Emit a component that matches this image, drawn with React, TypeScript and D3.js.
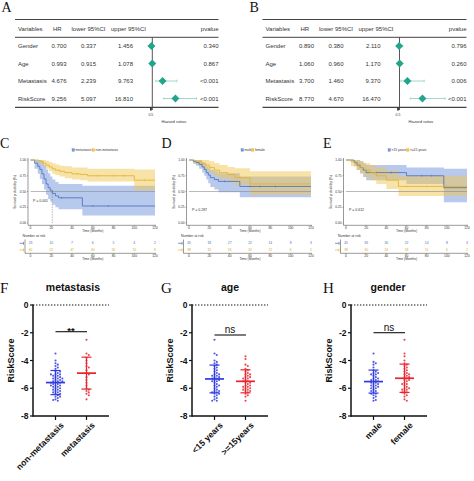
import React from "react";
import * as d3 from "d3";

const FONT = "'Liberation Sans', Arial, Helvetica, sans-serif";
const SERIF = "'Liberation Serif', 'Times New Roman', Times, serif";

// ---------------- Forest plots (A, B) ----------------
const forestVars = ["Gender", "Age", "Metastasis", "RiskScore"];
const forestHeader = ["Variables", "HR", "lower 95%CI", "upper 95%CI", "pvalue"];
const uniHR = [0.7, 0.993, 4.676, 9.256];
const uniLow = [0.337, 0.915, 2.239, 5.097];
const uniHigh = [1.456, 1.078, 9.763, 16.81];
const uniP = ["0.340", "0.867", "<0.001", "<0.001"];
const mulHR = [0.89, 1.06, 3.7, 8.77];
const mulLow = [0.38, 0.96, 1.46, 4.67];
const mulHigh = [2.11, 1.17, 9.37, 16.47];
const mulP = ["0.796", "0.260", "0.006", "<0.001"];

// ---------------- Kaplan-Meier (C, D, E) ----------------
const kmTimeTicks = [0, 20, 40, 60, 80, 100, 120];
const kmSurvTicks = [0, 0.25, 0.5, 0.75, 1];

// C: metastasis (blue) vs non-metastasis (yellow)
const cMetT = [0, 4, 7, 9, 11, 13, 15, 17, 19, 21, 24, 27, 50, 120];
const cMetS = [1, 0.95, 0.9, 0.85, 0.78, 0.7, 0.62, 0.56, 0.52, 0.47, 0.43, 0.4, 0.27, 0.27];
const cMetLo = [1, 0.86, 0.78, 0.7, 0.62, 0.53, 0.45, 0.38, 0.34, 0.29, 0.25, 0.22, 0.12, 0.12];
const cMetHi = [1, 1, 1, 1, 0.98, 0.92, 0.85, 0.79, 0.74, 0.69, 0.65, 0.62, 0.59, 0.59];
const cMetCens = [30, 60, 75];
const cNonT = [0, 8, 12, 15, 18, 21, 24, 28, 33, 40, 48, 55, 100, 120];
const cNonS = [1, 0.98, 0.95, 0.92, 0.89, 0.86, 0.84, 0.82, 0.8, 0.78, 0.77, 0.75, 0.68, 0.68];
const cNonLo = [1, 0.94, 0.9, 0.86, 0.82, 0.78, 0.76, 0.74, 0.71, 0.69, 0.68, 0.66, 0.52, 0.52];
const cNonHi = [1, 1, 1, 0.99, 0.97, 0.95, 0.93, 0.91, 0.9, 0.88, 0.88, 0.86, 0.85, 0.85];
const cNonCens = [45, 65, 80, 90, 110];
const cRiskMet = [23, 10, 7, 6, 5, 4, 2];
const cRiskNon = [60, 52, 47, 40, 30, 20, 8];

// D: male (blue) vs female (yellow)
const dMaleT = [0, 4, 7, 10, 13, 15, 17, 19, 21, 25, 29, 50, 120];
const dMaleS = [1, 0.98, 0.96, 0.93, 0.89, 0.85, 0.8, 0.76, 0.72, 0.69, 0.66, 0.58, 0.58];
const dMaleLo = [1, 0.94, 0.91, 0.86, 0.8, 0.75, 0.69, 0.63, 0.57, 0.53, 0.49, 0.41, 0.41];
const dMaleHi = [1, 1, 1, 1, 0.97, 0.94, 0.9, 0.87, 0.84, 0.82, 0.79, 0.74, 0.74];
const dMaleCens = [35, 60, 70, 85];
const dFemT = [0, 6, 12, 16, 20, 25, 30, 38, 45, 60, 120];
const dFemS = [1, 0.98, 0.95, 0.92, 0.88, 0.84, 0.8, 0.77, 0.72, 0.62, 0.62];
const dFemLo = [1, 0.93, 0.88, 0.84, 0.79, 0.74, 0.7, 0.66, 0.6, 0.45, 0.45];
const dFemHi = [1, 1, 1, 1, 0.98, 0.95, 0.92, 0.89, 0.87, 0.82, 0.82];
const dFemCens = [50, 75, 95];
const dRiskMale = [45, 33, 27, 22, 14, 8, 3];
const dRiskFem = [38, 32, 26, 20, 12, 6, 2];

// E: <15 years (blue) vs >=15 years (yellow)
const eYoungT = [0, 8, 11, 14, 17, 20, 60, 97, 120];
const eYoungS = [1, 0.96, 0.92, 0.88, 0.84, 0.8, 0.75, 0.56, 0.56];
const eYoungLo = [1, 0.9, 0.84, 0.79, 0.73, 0.68, 0.62, 0.33, 0.33];
const eYoungHi = [1, 1, 1, 0.98, 0.95, 0.92, 0.88, 0.86, 0.86];
const eYoungCens = [30, 45, 75, 85];
const eOldT = [0, 5, 10, 14, 18, 24, 30, 40, 52, 120];
const eOldS = [1, 0.97, 0.93, 0.88, 0.84, 0.8, 0.75, 0.68, 0.58, 0.58];
const eOldLo = [1, 0.9, 0.84, 0.78, 0.73, 0.68, 0.62, 0.54, 0.43, 0.43];
const eOldHi = [1, 1, 1, 0.98, 0.95, 0.92, 0.88, 0.83, 0.75, 0.75];
const eOldCens = [60, 80, 100];
const eRiskYoung = [45, 36, 30, 22, 14, 8, 3];
const eRiskOld = [38, 30, 24, 18, 11, 6, 2];

// ---------------- Dot plots (F, G, H) ----------------
const riskTicks = [0, -2, -4, -6, -8];
const fCats = ["non-metastasis", "metastasis"];
const fNonMet = [-3.5, -4.0, -4.2, -4.3, -4.4, -4.5, -4.6, -4.8, -4.8, -4.9, -5.0, -5.0, -5.0, -5.1, -5.1, -5.2, -5.2, -5.3, -5.3, -5.3, -5.4, -5.4, -5.5, -5.5, -5.5, -5.6, -5.6, -5.6, -5.7, -5.7, -5.8, -5.8, -5.8, -5.9, -5.9, -6.0, -6.0, -6.1, -6.1, -6.2, -6.2, -6.3, -6.3, -6.4, -6.4, -6.5, -6.6, -6.6, -6.7, -6.8, -6.85, -6.9];
const fMet = [-2.5, -3.5, -3.6, -3.8, -4.0, -4.2, -4.4, -4.5, -4.7, -4.9, -5.0, -5.2, -5.4, -5.6, -5.8, -6.0, -6.1, -6.2, -6.3, -6.4, -6.5, -6.8];
const fMeans = [-5.59, -4.91];
const fSds = [0.87, 1.15];

const gCats = ["<15 years", ">=15years"];
const gYoung = [-2.5, -3.5, -3.6, -4.0, -4.1, -4.2, -4.3, -4.4, -4.5, -4.6, -4.8, -4.9, -5.0, -5.0, -5.1, -5.2, -5.2, -5.3, -5.3, -5.4, -5.4, -5.5, -5.5, -5.6, -5.7, -5.8, -5.8, -5.9, -6.0, -6.1, -6.2, -6.2, -6.3, -6.3, -6.4, -6.4, -6.5, -6.6, -6.7, -6.8, -6.9, -6.9, -4.7, -5.1];
const gOld = [-3.7, -3.9, -4.3, -4.4, -4.6, -4.7, -4.8, -4.9, -5.0, -5.0, -5.1, -5.2, -5.3, -5.3, -5.4, -5.5, -5.5, -5.6, -5.6, -5.7, -5.8, -5.8, -5.9, -6.0, -6.0, -6.1, -6.1, -6.2, -6.2, -6.3, -6.4, -6.5, -6.6, -6.9, -5.2, -5.9];
const gMeans = [-5.33, -5.5];
const gSds = [1.0, 0.83];

const hCats = ["male", "female"];
const hMale = [-3.5, -4.1, -4.2, -4.3, -4.5, -4.7, -4.8, -4.9, -4.9, -5.0, -5.0, -5.1, -5.2, -5.3, -5.3, -5.4, -5.5, -5.5, -5.6, -5.6, -5.7, -5.7, -5.8, -5.9, -5.9, -6.0, -6.0, -6.1, -6.2, -6.2, -6.3, -6.4, -6.4, -6.5, -6.6, -6.7, -6.85, -6.9, -5.4, -5.8];
const hFemale = [-2.5, -3.5, -3.7, -4.0, -4.2, -4.3, -4.4, -4.5, -4.7, -4.8, -4.9, -5.0, -5.1, -5.2, -5.2, -5.3, -5.4, -5.4, -5.5, -5.6, -5.7, -5.8, -5.9, -6.0, -6.0, -6.1, -6.2, -6.3, -6.3, -6.4, -6.5, -6.6, -6.8, -6.9, -5.0, -5.7, -6.1, -4.6];
const hMeans = [-5.52, -5.28];
const hSds = [0.83, 1.02];

// ---------------- Components ----------------
function Forest({ dx, rightX, hr, lo, hi, pv, refX, slope }: any) {
  const x = d3.scaleLinear().domain([1, 20]).range([refX, refX + 19 * slope]);
  const rowY = d3.scaleLinear().domain([0, forestVars.length - 1]).range([46, 98.5]);
  const f3 = d3.format(".3f");
  const L = 15 + dx;
  const base: any = { fontFamily: FONT, fontSize: 6, fill: "#333" };
  const teal = "#23A58B";
  const tealLight = "#86CFC0";
  return (
    <g>
      <line x1={L} x2={rightX} y1={19.5} y2={19.5} stroke="#444" strokeWidth={1.2} />
      <line x1={L} x2={rightX} y1={37.3} y2={37.3} stroke="#444" strokeWidth={1} />
      <line x1={L} x2={rightX} y1={107.3} y2={107.3} stroke="#444" strokeWidth={1.2} />
      <line x1={x(1)} x2={x(1)} y1={37.3} y2={110} stroke="#444" strokeWidth={0.9} />
      <rect x={x(0.5) - 0.9} y={107.5} width={1.8} height={3} fill="#333" />
      <text x={x(0.5)} y={116} textAnchor="middle" style={{ ...base, fontSize: 3.5 }}>0.5</text>
      <text x={x(0.5) + 23} y={122.5} textAnchor="middle" style={{ ...base, fontSize: 4.2 }}>Hazard ratios</text>
      <text x={18 + dx} y={31.1} style={base}>{forestHeader[0]}</text>
      <text x={53 + dx} y={31.1} style={base}>{forestHeader[1]}</text>
      <text x={88.5 + dx} y={31.1} textAnchor="middle" style={base}>{forestHeader[2]}</text>
      <text x={128.5 + dx} y={31.1} textAnchor="middle" style={base}>{forestHeader[3]}</text>
      <text x={rightX} y={31.1} textAnchor="end" style={base}>{forestHeader[4]}</text>
      {forestVars.map((v, i) => {
        const yy = rowY(i);
        return (
          <g key={v}>
            <text x={18 + dx} y={yy + 2.1} style={base}>{v}</text>
            <text x={51.5 + dx} y={yy + 2.1} style={base}>{f3(hr[i])}</text>
            <text x={88.5 + dx} y={yy + 2.1} textAnchor="middle" style={base}>{f3(lo[i])}</text>
            <text x={133 + dx} y={yy + 2.1} textAnchor="end" style={base}>{f3(hi[i])}</text>
            <text x={rightX} y={yy + 2.1} textAnchor="end" style={base}>{pv[i]}</text>
            <line x1={x(lo[i])} x2={x(hi[i])} y1={yy} y2={yy} stroke={tealLight} strokeWidth={0.8} />
            <line x1={x(lo[i])} x2={x(lo[i])} y1={yy - 1.3} y2={yy + 1.3} stroke={tealLight} strokeWidth={0.7} />
            <line x1={x(hi[i])} x2={x(hi[i])} y1={yy - 1.3} y2={yy + 1.3} stroke={tealLight} strokeWidth={0.7} />
            <path
              d={`M${x(hr[i]) - 4},${yy} L${x(hr[i])},${yy - 4} L${x(hr[i]) + 4},${yy} L${x(hr[i])},${yy + 4} Z`}
              fill={teal}
            />
          </g>
        );
      })}
    </g>
  );
}

const KM_COL = [
  { line: "#4A6CB3", fill: "#7D9DE0", op: 0.55, text: "#4A6CB3" },
  { line: "#E2B12A", fill: "#F0C650", op: 0.5, text: "#D9A820" },
];

function stepVal(T: number[], V: number[], t: number) {
  let i = d3.bisectRight(T, t) - 1;
  if (i < 0) i = 0;
  return V[i];
}

function KM({ x0, x1, curves, names, risk, pText, pX, pY, medianT, legendX }: any) {
  const x = d3.scaleLinear().domain([0, 120]).range([x0, x1]);
  const y = d3.scaleLinear().domain([0, 1]).range([223, 160]);
  const ln = d3
    .line<any>()
    .x((d: any) => x(d[0]))
    .y((d: any) => y(d[1]))
    .curve(d3.curveStepAfter);
  const ar = d3
    .area<any>()
    .x((d: any) => x(d[0]))
    .y0((d: any) => y(d[1]))
    .y1((d: any) => y(d[2]))
    .curve(d3.curveStepAfter);
  const ax = x0 - 2.5;
  const tiny: any = { fontFamily: FONT, fontSize: 3.3, fill: "#333" };
  const riskRows = [243.3, 250];
  // legend layout
  const legW0 = names[0].length * 1.6 + 4;
  return (
    <g>
      {/* bands */}
      {curves.map((c: any, k: number) => (
        <path
          key={"b" + k}
          d={ar(c.t.map((t: number, i: number) => [t, c.lo[i], c.hi[i]])) || ""}
          fill={KM_COL[k].fill}
          fillOpacity={KM_COL[k].op}
        />
      ))}
      {/* median lines */}
      <line x1={x(0)} x2={x(120)} y1={y(0.5)} y2={y(0.5)} stroke="#8a8a8a" strokeWidth={0.6} />
      {medianT != null && (
        <line x1={x(medianT)} x2={x(medianT)} y1={y(0.5)} y2={y(0)} stroke="#8a8a8a" strokeWidth={0.6} strokeDasharray="1.5,1" />
      )}
      {curves.map((c: any, k: number) => (
        <g key={"l" + k}>
          <path d={ln(c.t.map((t: number, i: number) => [t, c.s[i]])) || ""} fill="none" stroke={KM_COL[k].line} strokeWidth={0.8} />
          {c.cens.map((t: number, j: number) => (
            <line
              key={j}
              x1={x(t)}
              x2={x(t)}
              y1={y(stepVal(c.t, c.s, t)) - 1}
              y2={y(stepVal(c.t, c.s, t)) + 1}
              stroke={KM_COL[k].line}
              strokeWidth={0.5}
            />
          ))}
        </g>
      ))}
      {/* axes */}
      <line x1={ax} x2={ax} y1={158} y2={225.3} stroke="#333" strokeWidth={0.5} />
      <line x1={ax} x2={x1 + 1} y1={225.3} y2={225.3} stroke="#333" strokeWidth={0.5} />
      {kmSurvTicks.map((v) => (
        <g key={v}>
          <line x1={ax - 1} x2={ax} y1={y(v)} y2={y(v)} stroke="#333" strokeWidth={0.4} />
          <text x={ax - 1.8} y={y(v) + 1.1} textAnchor="end" style={tiny}>{d3.format(".2f")(v)}</text>
        </g>
      ))}
      {kmTimeTicks.map((t) => (
        <g key={t}>
          <line x1={x(t)} x2={x(t)} y1={225.3} y2={226.3} stroke="#333" strokeWidth={0.4} />
          <text x={x(t)} y={229} textAnchor="middle" style={tiny}>{t}</text>
        </g>
      ))}
      <text x={(x0 + x1) / 2} y={232.3} textAnchor="middle" style={tiny}>Time (Months)</text>
      <text transform={`translate(${x0 - 14.5},192) rotate(-90)`} textAnchor="middle" style={tiny}>Survival probability (%)</text>
      <text x={pX} y={pY} style={{ ...tiny, fontSize: 3.5 }}>{pText}</text>
      {/* legend */}
      <g>
        <rect x={legendX} y={148.7} width={2.6} height={2.6} fill={KM_COL[0].fill} stroke={KM_COL[0].line} strokeWidth={0.3} />
        <text x={legendX + 3.6} y={151.2} style={tiny}>{names[0]}</text>
        <rect x={legendX + legW0} y={148.7} width={2.6} height={2.6} fill={KM_COL[1].fill} stroke={KM_COL[1].line} strokeWidth={0.3} />
        <text x={legendX + legW0 + 3.6} y={151.2} style={tiny}>{names[1]}</text>
      </g>
      {/* risk table */}
      <text x={x0 - 8} y={236.8} style={{ ...tiny, fontSize: 3.5 }}>Number at risk</text>
      <line x1={x0 - 5.5} x2={x0 - 5.5} y1={239.5} y2={253.3} stroke="#333" strokeWidth={0.5} />
      <line x1={x0 - 5.5} x2={x1 + 1} y1={253.3} y2={253.3} stroke="#333" strokeWidth={0.5} />
      {riskRows.map((ry, k) => (
        <g key={ry}>
          <line x1={x0 - 11} x2={x0 - 6.5} y1={ry} y2={ry} stroke={KM_COL[k].line} strokeWidth={0.7} />
          <line x1={x0 - 7} x2={x0 - 7} y1={ry - 1.5} y2={ry + 1.5} stroke={KM_COL[k].line} strokeWidth={0.6} />
          {kmTimeTicks.map((t, j) => (
            <text key={t} x={x(t)} y={ry + 1.1} textAnchor="middle" style={{ ...tiny, fill: KM_COL[k].text }}>
              {risk[k][j]}
            </text>
          ))}
        </g>
      ))}
      {kmTimeTicks.map((t) => (
        <g key={"rt" + t}>
          <line x1={x(t)} x2={x(t)} y1={253.3} y2={254.3} stroke="#333" strokeWidth={0.4} />
          <text x={x(t)} y={257} textAnchor="middle" style={tiny}>{t}</text>
        </g>
      ))}
      <text x={(x0 + x1) / 2} y={260.3} textAnchor="middle" style={tiny}>Time (Months)</text>
    </g>
  );
}

function swarm(values: number[], ys: (v: number) => number, cx: number) {
  const placed: { x: number; y: number }[] = [];
  const sorted = [...values].sort((a, b) => b - a);
  const step = 2.3;
  const minD = 2.35;
  sorted.forEach((v) => {
    const yy = ys(v);
    let chosen = cx;
    for (let k = 0; k < 9; k++) {
      const cands = k === 0 ? [0] : [k, -k];
      let ok = false;
      for (const c of cands) {
        const xx = cx + c * step;
        if (placed.every((p) => Math.hypot(p.x - xx, p.y - yy) >= minD)) {
          chosen = xx;
          ok = true;
          break;
        }
      }
      if (ok) break;
    }
    placed.push({ x: chosen, y: yy });
  });
  return placed;
}

const DOT_COL = ["#2F3BE0", "#E8252E"];

function DotPlot({ axisX, title, cats, groups, means, sds, sig, sigY, sigBold, titleX }: any) {
  const ys = d3.scaleLinear().domain([-8, 0]).range([416, 305]);
  const cx = d3.scaleOrdinal<string, number>().domain(cats).range([axisX + 22.5, axisX + 53.5]);
  const right = axisX + 76;
  const bold: any = { fontFamily: FONT, fontWeight: "bold", fill: "#111" };
  return (
    <g>
      <text x={titleX} y={291} textAnchor="middle" style={{ ...bold, fontSize: 10.5 }}>{title}</text>
      <line x1={axisX} x2={right} y1={ys(0)} y2={ys(0)} stroke="#111" strokeWidth={1} strokeDasharray="1.4,1.6" />
      {groups.map((g: number[], k: number) => {
        const c = cx(cats[k]);
        const pts = swarm(g, ys, c);
        const m = means[k];
        const s = sds[k];
        return (
          <g key={k}>
            {pts.map((p, i) => (
              <circle key={i} cx={p.x} cy={p.y} r={1.05} fill={DOT_COL[k]} fillOpacity={0.85} />
            ))}
            <line x1={c} x2={c} y1={ys(m + s)} y2={ys(m - s)} stroke={DOT_COL[k]} strokeWidth={1.2} />
            <line x1={c - 5} x2={c + 5} y1={ys(m + s)} y2={ys(m + s)} stroke={DOT_COL[k]} strokeWidth={1.2} />
            <line x1={c - 5} x2={c + 5} y1={ys(m - s)} y2={ys(m - s)} stroke={DOT_COL[k]} strokeWidth={1.2} />
            <line x1={c - 9.5} x2={c + 9.5} y1={ys(m)} y2={ys(m)} stroke={DOT_COL[k]} strokeWidth={1.7} />
          </g>
        );
      })}
      {/* significance */}
      <line x1={cx(cats[0])} x2={cx(cats[1]) + 0.5} y1={sigY} y2={sigY} stroke="#111" strokeWidth={1.1} />
      <text
        x={(cx(cats[0]) + cx(cats[1])) / 2}
        y={sigBold ? sigY + 2 : sigY - 1.6}
        textAnchor="middle"
        style={{ fontFamily: FONT, fontSize: sigBold ? 9.5 : 10, fontWeight: sigBold ? "bold" : "normal", fill: "#111" }}
      >
        {sig}
      </text>
      {/* axes */}
      <line x1={axisX} x2={axisX} y1={ys(0) - 0.5} y2={ys(-8) + 0.75} stroke="#111" strokeWidth={1.5} />
      <line x1={axisX} x2={right} y1={ys(-8)} y2={ys(-8)} stroke="#111" strokeWidth={1.5} />
      {riskTicks.map((v) => (
        <g key={v}>
          <line x1={axisX - 3} x2={axisX} y1={ys(v)} y2={ys(v)} stroke="#111" strokeWidth={1.2} />
          <text x={axisX - 4.5} y={ys(v) + 3} textAnchor="end" style={{ ...bold, fontSize: 8.5 }}>{v}</text>
        </g>
      ))}
      <text transform={`translate(${axisX - 19},360.5) rotate(-90)`} textAnchor="middle" style={{ ...bold, fontSize: 9 }}>RiskScore</text>
      {cats.map((c: string) => (
        <g key={c}>
          <line x1={cx(c)} x2={cx(c)} y1={ys(-8)} y2={ys(-8) + 4} stroke="#111" strokeWidth={1.2} />
          <text
            transform={`translate(${cx(c) + 4.5},421.5) rotate(-45)`}
            textAnchor="end"
            dy="0.72em"
            style={{ ...bold, fontSize: 8.6 }}
          >
            {c}
          </text>
        </g>
      ))}
    </g>
  );
}

export default function App() {
  const lab: any = { fontFamily: SERIF, fontSize: 14, fill: "#111" };
  return (
    <svg width={474} height={481} style={{ position: "absolute", left: 0, top: 0, display: "block" }}>
      <rect width={474} height={481} fill="#fff" />
      <text x={1.5} y={11.7} style={lab}>A</text>
      <text x={249.5} y={12} style={lab}>B</text>
      <Forest dx={0} rightX={218.5} hr={uniHR} lo={uniLow} hi={uniHigh} pv={uniP} refX={152.3} slope={2.8} />
      <Forest dx={247.5} rightX={466.5} hr={mulHR} lo={mulLow} hi={mulHigh} pv={mulP} refX={399.5} slope={2.95} />

      <text x={0} y={148} style={lab}>C</text>
      <text x={161.5} y={148} style={lab}>D</text>
      <text x={323} y={148} style={lab}>E</text>
      <KM
        x0={30.5}
        x1={155}
        curves={[
          { t: cMetT, s: cMetS, lo: cMetLo, hi: cMetHi, cens: cMetCens },
          { t: cNonT, s: cNonS, lo: cNonLo, hi: cNonHi, cens: cNonCens },
        ]}
        names={["metastasis", "non-metastasis"]}
        risk={[cRiskMet, cRiskNon]}
        pText="P = 0.001"
        pX={33}
        pY={202}
        medianT={21}
        legendX={72}
      />
      <KM
        x0={189}
        x1={311}
        curves={[
          { t: dMaleT, s: dMaleS, lo: dMaleLo, hi: dMaleHi, cens: dMaleCens },
          { t: dFemT, s: dFemS, lo: dFemLo, hi: dFemHi, cens: dFemCens },
        ]}
        names={["male", "female"]}
        risk={[dRiskMale, dRiskFem]}
        pText="P = 0.287"
        pX={192}
        pY={210.5}
        medianT={null}
        legendX={241}
      />
      <KM
        x0={346}
        x1={467}
        curves={[
          { t: eYoungT, s: eYoungS, lo: eYoungLo, hi: eYoungHi, cens: eYoungCens },
          { t: eOldT, s: eOldS, lo: eOldLo, hi: eOldHi, cens: eOldCens },
        ]}
        names={["<15 years", ">=15 years"]}
        risk={[eRiskYoung, eRiskOld]}
        pText="P = 0.612"
        pX={349}
        pY={210.5}
        medianT={null}
        legendX={388}
      />

      <text x={0} y={293} style={{ ...lab, fontSize: 15 }}>F</text>
      <text x={161} y={293} style={{ ...lab, fontSize: 15 }}>G</text>
      <text x={323} y={293} style={{ ...lab, fontSize: 15 }}>H</text>
      <DotPlot axisX={33} title="metastasis" titleX={73} cats={fCats} groups={[fNonMet, fMet]} means={fMeans} sds={fSds} sig="**" sigY={331.7} sigBold={true} />
      <DotPlot axisX={192} title="age" titleX={230} cats={gCats} groups={[gYoung, gOld]} means={gMeans} sds={gSds} sig="ns" sigY={335} sigBold={false} />
      <DotPlot axisX={351} title="gender" titleX={388} cats={hCats} groups={[hMale, hFemale]} means={hMeans} sds={hSds} sig="ns" sigY={332.7} sigBold={false} />
    </svg>
  );
}
